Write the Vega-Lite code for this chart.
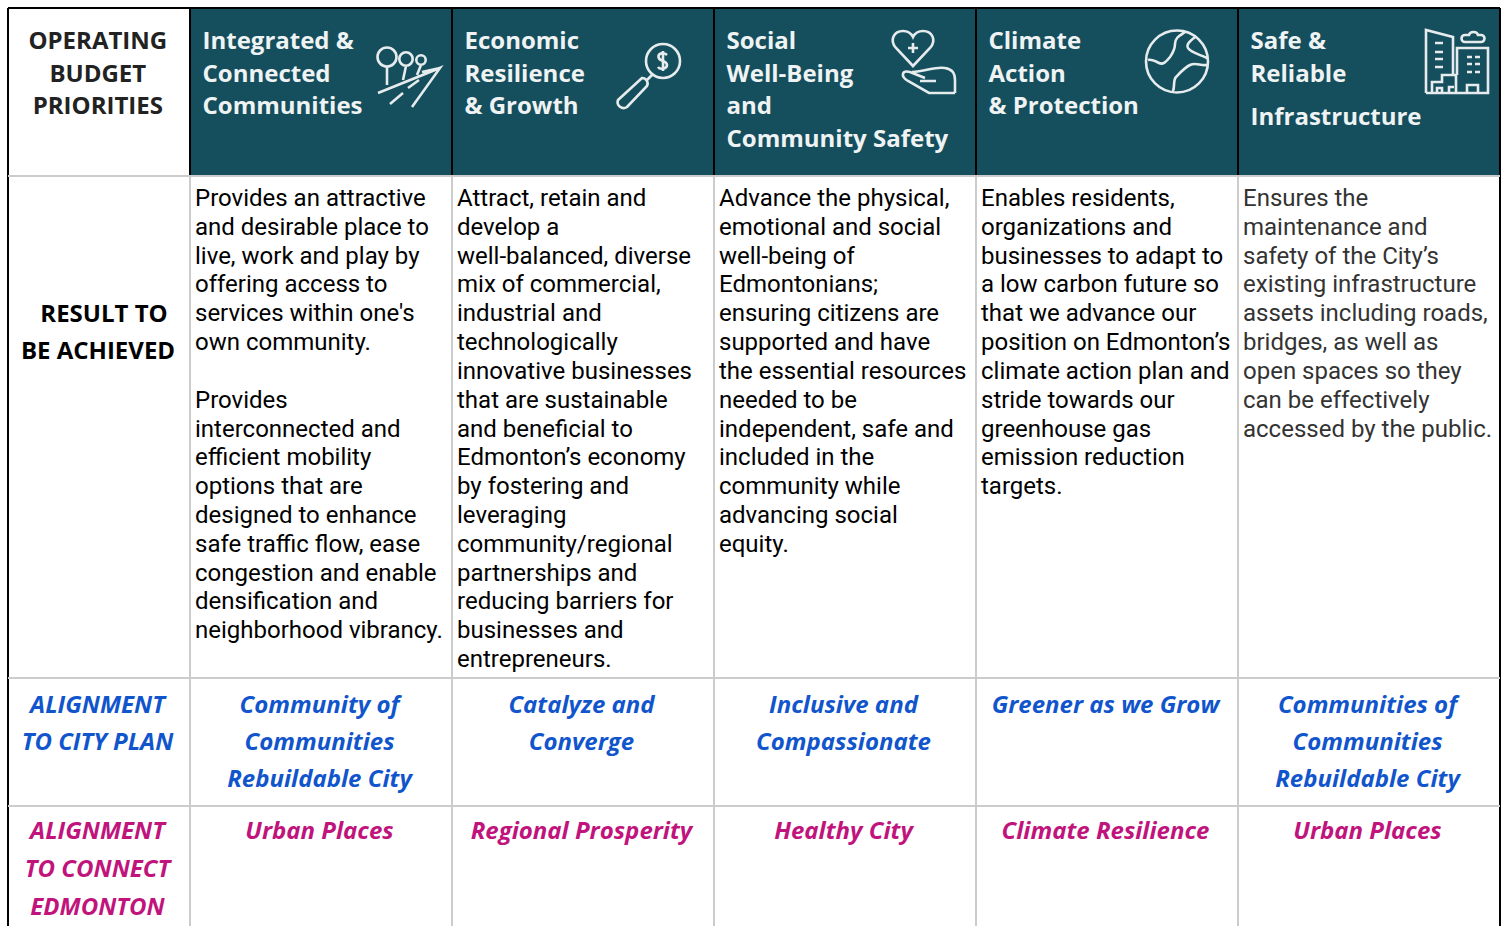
{
"$schema":"https://vega.github.io/schema/vega-lite/v6.json",
"width":1507,"height":926,"padding":0,"autosize":{"type":"none"},"background":"white",
"config":{"view":{"stroke":null}},
"datasets":{
"cells":[{"col":1,"col2":2},{"col":2,"col2":3},{"col":3,"col2":4},{"col":4,"col2":5},{"col":5,"col2":6}],
"rules":[
{"col":0,"col2":0,"row":0,"row2":4,"kind":"black"},{"col":6,"col2":6,"row":0,"row2":4,"kind":"black"},{"col":0,"col2":6,"row":0,"row2":0,"kind":"black"},
{"col":1,"col2":1,"row":0,"row2":1,"kind":"black"},{"col":2,"col2":2,"row":0,"row2":1,"kind":"black"},{"col":3,"col2":3,"row":0,"row2":1,"kind":"black"},{"col":4,"col2":4,"row":0,"row2":1,"kind":"black"},{"col":5,"col2":5,"row":0,"row2":1,"kind":"black"},
{"col":1,"col2":1,"row":1,"row2":4,"kind":"grey"},{"col":2,"col2":2,"row":1,"row2":4,"kind":"grey"},{"col":3,"col2":3,"row":1,"row2":4,"kind":"grey"},{"col":4,"col2":4,"row":1,"row2":4,"kind":"grey"},{"col":5,"col2":5,"row":1,"row2":4,"kind":"grey"},
{"col":0,"col2":6,"row":1,"row2":1,"kind":"grey"},{"col":0,"col2":6,"row":2,"row2":2,"kind":"grey"},{"col":0,"col2":6,"row":3,"row2":3,"kind":"grey"}],
"icons":[{"col":1,"row":0,"icon":"mobility"},{"col":2,"row":0,"icon":"magnifier"},{"col":3,"row":0,"icon":"care"},{"col":4,"row":0,"icon":"globe"},{"col":5,"row":0,"icon":"city"}],
"corner":[{"col":0.5,"line":1,"text":"OPERATING"},{"col":0.5,"line":2,"text":"BUDGET"},{"col":0.5,"line":3,"text":"PRIORITIES"}],
"header":[
{"col":1,"line":1,"text":"Integrated &"},{"col":1,"line":2,"text":"Connected"},{"col":1,"line":3,"text":"Communities"},
{"col":2,"line":1,"text":"Economic"},{"col":2,"line":2,"text":"Resilience"},{"col":2,"line":3,"text":"& Growth"},
{"col":3,"line":1,"text":"Social"},{"col":3,"line":2,"text":"Well-Being"},{"col":3,"line":3,"text":"and"},{"col":3,"line":4,"text":"Community Safety"},
{"col":4,"line":1,"text":"Climate"},{"col":4,"line":2,"text":"Action"},{"col":4,"line":3,"text":"& Protection"},
{"col":5,"line":1,"text":"Safe &"},{"col":5,"line":2,"text":"Reliable"},{"col":5,"line":3.32,"text":"Infrastructure"}],
"result":[{"col":0.533,"line":1,"text":"RESULT TO"},{"col":0.5,"line":2,"text":"BE ACHIEVED"}],
"body":[
{"col":1,"line":1,"text":"Provides an attractive"},{"col":1,"line":2,"text":"and desirable place to"},{"col":1,"line":3,"text":"live, work and play by"},{"col":1,"line":4,"text":"offering access to"},{"col":1,"line":5,"text":"services within one's"},{"col":1,"line":6,"text":"own community."},{"col":1,"line":8,"text":"Provides"},{"col":1,"line":9,"text":"interconnected and"},{"col":1,"line":10,"text":"efficient mobility"},{"col":1,"line":11,"text":"options that are"},{"col":1,"line":12,"text":"designed to enhance"},{"col":1,"line":13,"text":"safe traffic flow, ease"},{"col":1,"line":14,"text":"congestion and enable"},{"col":1,"line":15,"text":"densification and"},{"col":1,"line":16,"text":"neighborhood vibrancy."},
{"col":2,"line":1,"text":"Attract, retain and"},{"col":2,"line":2,"text":"develop a"},{"col":2,"line":3,"text":"well-balanced, diverse"},{"col":2,"line":4,"text":"mix of commercial,"},{"col":2,"line":5,"text":"industrial and"},{"col":2,"line":6,"text":"technologically"},{"col":2,"line":7,"text":"innovative businesses"},{"col":2,"line":8,"text":"that are sustainable"},{"col":2,"line":9,"text":"and beneficial to"},{"col":2,"line":10,"text":"Edmonton’s economy"},{"col":2,"line":11,"text":"by fostering and"},{"col":2,"line":12,"text":"leveraging"},{"col":2,"line":13,"text":"community/regional"},{"col":2,"line":14,"text":"partnerships and"},{"col":2,"line":15,"text":"reducing barriers for"},{"col":2,"line":16,"text":"businesses and"},{"col":2,"line":17,"text":"entrepreneurs."},
{"col":3,"line":1,"text":"Advance the physical,"},{"col":3,"line":2,"text":"emotional and social"},{"col":3,"line":3,"text":"well-being of"},{"col":3,"line":4,"text":"Edmontonians;"},{"col":3,"line":5,"text":"ensuring citizens are"},{"col":3,"line":6,"text":"supported and have"},{"col":3,"line":7,"text":"the essential resources"},{"col":3,"line":8,"text":"needed to be"},{"col":3,"line":9,"text":"independent, safe and"},{"col":3,"line":10,"text":"included in the"},{"col":3,"line":11,"text":"community while"},{"col":3,"line":12,"text":"advancing social"},{"col":3,"line":13,"text":"equity."},
{"col":4,"line":1,"text":"Enables residents,"},{"col":4,"line":2,"text":"organizations and"},{"col":4,"line":3,"text":"businesses to adapt to"},{"col":4,"line":4,"text":"a low carbon future so"},{"col":4,"line":5,"text":"that we advance our"},{"col":4,"line":6,"text":"position on Edmonton’s"},{"col":4,"line":7,"text":"climate action plan and"},{"col":4,"line":8,"text":"stride towards our"},{"col":4,"line":9,"text":"greenhouse gas"},{"col":4,"line":10,"text":"emission reduction"},{"col":4,"line":11,"text":"targets."},
{"col":5,"line":1,"text":"Ensures the"},{"col":5,"line":2,"text":"maintenance and"},{"col":5,"line":3,"text":"safety of the City’s"},{"col":5,"line":4,"text":"existing infrastructure"},{"col":5,"line":5,"text":"assets including roads,"},{"col":5,"line":6,"text":"bridges, as well as"},{"col":5,"line":7,"text":"open spaces so they"},{"col":5,"line":8,"text":"can be effectively"},{"col":5,"line":9,"text":"accessed by the public."}],
"plan":[
{"col":0.5,"line":1,"text":"ALIGNMENT"},{"col":0.5,"line":2,"text":"TO CITY PLAN"},
{"col":1.5,"line":1,"text":"Community of"},{"col":1.5,"line":2,"text":"Communities"},{"col":1.5,"line":3,"text":"Rebuildable City"},
{"col":2.5,"line":1,"text":"Catalyze and"},{"col":2.5,"line":2,"text":"Converge"},
{"col":3.5,"line":1,"text":"Inclusive and"},{"col":3.5,"line":2,"text":"Compassionate"},
{"col":4.5,"line":1,"text":"Greener as we Grow"},
{"col":5.5,"line":1,"text":"Communities of"},{"col":5.5,"line":2,"text":"Communities"},{"col":5.5,"line":3,"text":"Rebuildable City"}],
"connect":[
{"col":0.5,"line":1,"text":"ALIGNMENT"},{"col":0.5,"line":2,"text":"TO CONNECT"},{"col":0.5,"line":3,"text":"EDMONTON"},
{"col":1.5,"line":1,"text":"Urban Places"},{"col":2.5,"line":1,"text":"Regional Prosperity"},{"col":3.5,"line":1,"text":"Healthy City"},{"col":4.5,"line":1,"text":"Climate Resilience"},{"col":5.5,"line":1,"text":"Urban Places"}]
},
"encoding":{"x":{"field":"col","type":"quantitative","axis":null,"scale":{"domain":[0,1,2,3,4,5,6],"range":[8,190,452,714,976,1238,1500],"zero":false,"nice":false}}},
"layer":[
{"data":{"name":"cells"},"mark":{"type":"rect","fill":"#154e5c"},
 "encoding":{"x2":{"field":"col2"},"y":{"datum":0,"type":"quantitative","axis":null,"scale":{"domain":[0,1],"range":[8,176],"zero":false,"nice":false}},"y2":{"datum":1}}},
{"data":{"name":"rules"},"mark":{"type":"rule","strokeWidth":2},
 "encoding":{"x2":{"field":"col2"},
  "y":{"field":"row","type":"quantitative","axis":null,"scale":{"domain":[0,1,2,3,4],"range":[8,176,678,806,926],"zero":false,"nice":false}},"y2":{"field":"row2"},
  "color":{"field":"kind","type":"nominal","legend":null,"scale":{"domain":["black","grey"],"range":["#000000","#cccccc"]}}}},
{"data":{"name":"icons"},"mark":{"type":"point","filled":false,"size":4,"stroke":"#e6eced","strokeWidth":2.6,"opacity":1},
 "encoding":{"y":{"field":"row","type":"quantitative","axis":null,"scale":{"domain":[0,1],"range":[8,176],"zero":false,"nice":false}},
  "shape":{"field":"icon","type":"nominal","legend":null,"scale":{"domain":["mobility","magnifier","care","globe","city"],"range":[
  "M187.5,49 A9.5,9.5 0 1 0 206.5,49 A9.5,9.5 0 1 0 187.5,49 M209.3,51 A6.7,6.7 0 1 0 222.7,51 A6.7,6.7 0 1 0 209.3,51 M226.3,52 A4.7,4.7 0 1 0 235.7,52 A4.7,4.7 0 1 0 226.3,52 M197,59 V77 M216,58 L213,72 M231,57 L227,67 M188,85 L250,60 L222,99 M232,64 L250,60 M200,96 L213,85 M218,80 L229,72",
  "M194,53 A17,17 0 1 0 228,53 A17,17 0 1 0 194,53 M200,67 L195,72 M190,70 L166,92 A6,6 0 0 0 175,99 L195,78 A5.5,5.5 0 0 0 190,70 Z M215,47 C212,44 206,45 206.5,49 C207,54 215,52 215,57 C215,61 208,62 206,59 M211,43 V63",
  "M199,58 L182,40 C175,32 180,23 189,23 C194,23 197,25 199,29 C201,25 204,23 209,23 C218,23 223,32 216,40 Z M194,40 H204 M199,35 V45 M241,85 H215 L194,73 C186,68 188,62 196,64 L211,70 M198,64 C211,64 221,58 231,60 C238,61 241,66 241,72 V85 M206,73 H222",
  "M170,53.5 A31,31 0 1 0 232,53.5 A31,31 0 1 0 170,53.5 M209,24 C203,28 199,30 199,36 C199,42 196,46 194,49 C190,54 187,57 183,55 C179,53 175,51 172,52 M219,29 C214,33 210,36 212,40 C214,44 222,46 231,50 M231,57 C224,58 220,54 214,57 C208,60 203,66 200,69 C197,72 199,78 197,83",
  "M188,85 V22 L215,29 V67 M197,35 H205 M197,44 H205 M197,51 H205 M197,59 H205 M227,34 H243 A3.5,3.5 0 0 0 243,27 H240 C239,23 232,23 231,27 H227 A3.5,3.5 0 0 0 227,34 Z M219,67 V40 H250 V85 H188 M229,49 H234 M237,49 H242 M229,56 H234 M237,56 H242 M229,64 H234 M237,64 H242 M194,85 V74 H204 V67 H218 V85 M199,85 V80 H204 V85 M211,85 V79 H216 M229,85 V77 H240 V85"
  ]}}}},
{"data":{"name":"corner"},"mark":{"type":"text","font":"Open Sans","fontWeight":700,"fontSize":24,"align":"center","baseline":"alphabetic","color":"#222222","dx":-1.2},
 "encoding":{"text":{"field":"text"},"y":{"field":"line","type":"quantitative","axis":null,"scale":{"domain":[1,4],"range":[49,147],"zero":false,"nice":false}}}},
{"data":{"name":"header"},"mark":{"type":"text","font":"Open Sans","fontWeight":700,"fontSize":24,"align":"left","baseline":"alphabetic","color":"#eff3f4","dx":12.5},
 "encoding":{"text":{"field":"text"},"y":{"field":"line","type":"quantitative","axis":null,"scale":{"domain":[1,4],"range":[49,147],"zero":false,"nice":false}}}},
{"data":{"name":"result"},"mark":{"type":"text","font":"Open Sans","fontWeight":700,"fontSize":24,"align":"center","baseline":"alphabetic","color":"#000000","dx":-1},
 "encoding":{"text":{"field":"text"},"y":{"field":"line","type":"quantitative","axis":null,"scale":{"domain":[1,2],"range":[322,359],"zero":false,"nice":false}}}},
{"data":{"name":"body"},"transform":[{"filter":"datum.col < 5"}],"mark":{"type":"text","font":"Roboto","fontSize":24,"align":"left","baseline":"alphabetic","color":"#000000","dx":5},
 "encoding":{"text":{"field":"text"},"y":{"field":"line","type":"quantitative","axis":null,"scale":{"domain":[1,17],"range":[206,667],"zero":false,"nice":false}}}},
{"data":{"name":"body"},"transform":[{"filter":"datum.col == 5"}],"mark":{"type":"text","font":"Roboto","fontSize":24,"align":"left","baseline":"alphabetic","color":"#333333","dx":5},
 "encoding":{"text":{"field":"text"},"y":{"field":"line","type":"quantitative","axis":null,"scale":{"domain":[1,17],"range":[206,667],"zero":false,"nice":false}}}},
{"data":{"name":"plan"},"mark":{"type":"text","font":"Open Sans","fontWeight":700,"fontStyle":"italic","fontSize":24,"align":"center","baseline":"alphabetic","color":"#1155cc","dx":-1.5},
 "encoding":{"text":{"field":"text"},"y":{"field":"line","type":"quantitative","axis":null,"scale":{"domain":[1,3],"range":[712.6,787.4],"zero":false,"nice":false}}}},
{"data":{"name":"connect"},"mark":{"type":"text","font":"Open Sans","fontWeight":700,"fontStyle":"italic","fontSize":24,"align":"center","baseline":"alphabetic","color":"#c0137c","dx":-1.5},
 "encoding":{"text":{"field":"text"},"y":{"field":"line","type":"quantitative","axis":null,"scale":{"domain":[1,3],"range":[839,915],"zero":false,"nice":false}}}}
],
"resolve":{"scale":{"y":"independent"}}
}
